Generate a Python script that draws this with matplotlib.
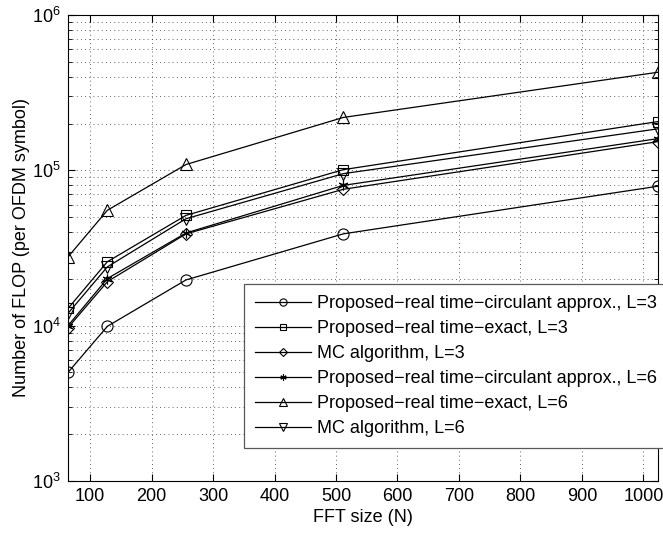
import matplotlib
matplotlib.use("Agg")
import matplotlib.pyplot as plt
from matplotlib.ticker import LogLocator, NullFormatter, MultipleLocator

plt.rcParams["font.family"] = ["Liberation Sans", "DejaVu Sans"]
plt.rcParams["mathtext.fontset"] = "custom"
plt.rcParams["mathtext.rm"] = "Liberation Sans"
plt.rcParams["mathtext.it"] = "Liberation Sans"

# FFT sizes
fft_size = [64, 128, 256, 512, 1024]

# FLOP per OFDM symbol
circ_l3 = [5000, 9900, 19700, 39000, 79000]
exact_l3 = [12900, 25800, 51300, 101000, 206000]
mc_l3 = [9700, 19200, 39000, 75500, 153000]
circ_l6 = [10000, 20100, 39500, 80000, 160000]
exact_l6 = [27700, 55300, 109000, 219000, 428000]
mc_l6 = [12000, 23900, 48800, 95200, 185000]

labels = [
    "Proposed\u2212real time\u2212circulant approx., L=3",
    "Proposed\u2212real time\u2212exact, L=3",
    "MC algorithm, L=3",
    "Proposed\u2212real time\u2212circulant approx., L=6",
    "Proposed\u2212real time\u2212exact, L=6",
    "MC algorithm, L=6",
]
series = [circ_l3, exact_l3, mc_l3, circ_l6, exact_l6, mc_l6]
markers = ["o", "s", "D", (6, 2, 0), "^", "v"]
sizes = [8, 7, 6.5, 7, 8.5, 8.5]

fig = plt.figure(figsize=(6.63, 5.33), dpi=100)
ax = fig.add_axes([0.1026, 0.0976, 0.890, 0.8743])

for vals, m, ms, lab in zip(series, markers, sizes, labels):
    ax.plot(fft_size, vals, color="black", lw=0.9, marker=m, ms=ms,
            mfc="none", mec="black", mew=0.8, label=lab)

ax.set_yscale("log")
ax.set_xlim(64, 1024)
ax.set_ylim(1e3, 1e6)
ax.xaxis.set_major_locator(MultipleLocator(100))
ax.yaxis.set_major_locator(LogLocator(base=10, numticks=10))
ax.yaxis.set_minor_locator(LogLocator(base=10, subs=range(2, 10), numticks=10))
ax.yaxis.set_minor_formatter(NullFormatter())

ax.grid(True, which="major", linestyle=(0, (1, 4)), color="0.2", lw=0.6)
ax.grid(True, which="minor", axis="y", linestyle=(0, (1, 4)), color="0.2", lw=0.6)
ax.tick_params(which="both", direction="in", top=True, right=True, labelsize=13)
ax.tick_params(which="major", length=5, pad=5)
ax.tick_params(which="minor", length=3)
for s in ax.spines.values():
    s.set_linewidth(0.8)

ax.set_xlabel("FFT size (N)", fontsize=13, labelpad=3)
ax.set_ylabel("Number of FLOP (per OFDM symbol)", fontsize=13, labelpad=2)

# legend box runs past the right edge of the figure, like the reference
leg = ax.legend(loc="upper left", bbox_to_anchor=(244 / 663, 1 - 284 / 533),
                bbox_transform=fig.transFigure, borderaxespad=0,
                fontsize=13, fancybox=False, framealpha=1, edgecolor="0.35",
                handlelength=3.1, markerscale=0.65, labelspacing=0.45,
                borderpad=0.6, handletextpad=0.35)
leg.get_frame().set_linewidth(0.9)

fig.savefig("out.png", dpi=100)
